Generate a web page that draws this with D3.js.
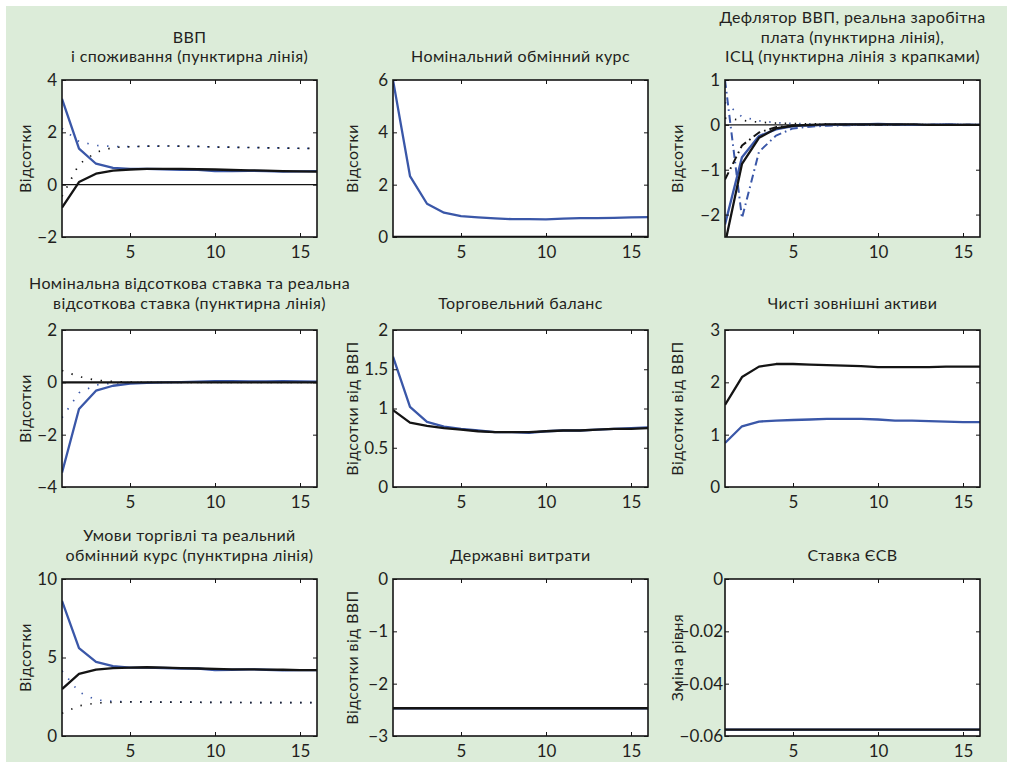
<!DOCTYPE html>
<html>
<head>
<meta charset="utf-8">
<script src="https://cdn.jsdelivr.net/npm/d3@7"></script>
<style>
  html, body { margin: 0; padding: 0; background: #ffffff; }
  svg { display: block; font-family: Lato, "Open Sans", sans-serif; }
</style>
</head>
<body>
<svg id="chart" width="1013" height="767"></svg>
<script>
// Horizon (quarters)
const periods = [1, 2, 3, 4, 5, 6, 7, 8, 9, 10, 11, 12, 13, 14, 15, 16];
const xTicks = [5, 10, 15];

// ВВП і споживання
const gdpBlue   = [3.28, 1.38, 0.80, 0.64, 0.60, 0.60, 0.59, 0.57, 0.57, 0.52, 0.52, 0.53, 0.52, 0.50, 0.51, 0.52];
const gdpBlack  = [-0.88, 0.10, 0.42, 0.54, 0.58, 0.60, 0.60, 0.60, 0.59, 0.58, 0.56, 0.55, 0.54, 0.52, 0.51, 0.50];
const consBlue  = [2.15, 1.65, 1.50, 1.46, 1.45, 1.47, 1.48, 1.47, 1.46, 1.44, 1.43, 1.42, 1.41, 1.40, 1.39, 1.38];
const consBlack = [-0.45, 0.78, 1.24, 1.42, 1.45, 1.47, 1.48, 1.47, 1.46, 1.44, 1.43, 1.42, 1.41, 1.40, 1.39, 1.38];
const yTicksGdp = [-2, 0, 2, 4];

// Номінальний обмінний курс
const nerBlue  = [6.00, 2.33, 1.27, 0.93, 0.80, 0.75, 0.71, 0.68, 0.68, 0.67, 0.70, 0.72, 0.72, 0.73, 0.75, 0.76];
const nerBlack = [0, 0, 0, 0, 0, 0, 0, 0, 0, 0, 0, 0, 0, 0, 0, 0];
const yTicksNer = [0, 2, 4, 6];

// Дефлятор ВВП, реальна заробітна плата, ІСЦ
const deflBlue  = [-2.22, -0.72, -0.25, -0.10, -0.03, -0.01, 0.00, 0.01, 0.01, 0.02, 0.01, 0.00, 0.00, 0.01, 0.00, 0.00];
const deflBlack = [-2.65, -0.87, -0.29, -0.08, -0.02, 0.00, 0.01, 0.01, 0.01, 0.01, 0.01, 0.01, 0.00, 0.00, 0.00, 0.00];
const wageBlue  = [0.50, 0.18, 0.09, 0.05, 0.03, 0.02, 0.01, 0.01, 0.01, 0.00, 0.00, 0.00, 0.00, 0.00, 0.00, 0.00];
const wageBlack = [0.15, 0.10, 0.06, 0.04, 0.03, 0.02, 0.02, 0.01, 0.01, 0.01, 0.00, 0.00, 0.00, 0.00, 0.00, 0.00];
const cpiBlue   = [1.00, -2.08, -0.60, -0.24, -0.08, -0.04, -0.02, -0.01, 0.00, 0.00, 0.01, 0.01, 0.00, 0.00, 0.00, 0.00];
const cpiBlack  = [-1.22, -0.46, -0.17, -0.05, -0.02, -0.01, 0.00, 0.00, 0.00, 0.00, 0.00, 0.00, 0.00, 0.00, 0.00, 0.00];
const yTicksPrices = [-2, -1, 0, 1];

// Номінальна та реальна відсоткова ставка
const nomRateBlue   = [-3.45, -1.02, -0.32, -0.13, -0.05, -0.02, 0.00, 0.01, 0.03, 0.05, 0.05, 0.04, 0.04, 0.05, 0.04, 0.03];
const nomRateBlack  = [0, 0, 0, 0, 0, 0, 0, 0, 0, 0, 0, 0, 0, 0, 0, 0];
const realRateBlue  = [-1.35, -0.40, -0.10, -0.03, -0.01, 0.00, 0.00, 0.00, 0.00, 0.00, 0.00, 0.00, 0.00, 0.00, 0.00, 0.00];
const realRateBlack = [0.45, 0.22, 0.08, 0.03, 0.01, 0.00, 0.00, 0.00, 0.00, 0.00, 0.00, 0.00, 0.00, 0.00, 0.00, 0.00];
const yTicksRates = [-4, -2, 0, 2];

// Торговельний баланс
const tradeBlue  = [1.66, 1.02, 0.83, 0.77, 0.74, 0.72, 0.70, 0.70, 0.69, 0.71, 0.72, 0.72, 0.73, 0.74, 0.75, 0.76];
const tradeBlack = [0.98, 0.82, 0.78, 0.75, 0.73, 0.71, 0.70, 0.70, 0.70, 0.71, 0.72, 0.72, 0.73, 0.74, 0.74, 0.75];
const yTicksTrade = [0, 0.5, 1, 1.5, 2];

// Чисті зовнішні активи
const nfaBlue  = [0.84, 1.16, 1.25, 1.27, 1.28, 1.29, 1.30, 1.30, 1.30, 1.29, 1.27, 1.27, 1.26, 1.25, 1.24, 1.24];
const nfaBlack = [1.57, 2.10, 2.30, 2.35, 2.35, 2.34, 2.33, 2.32, 2.31, 2.29, 2.29, 2.29, 2.29, 2.30, 2.30, 2.30];
const yTicksNfa = [0, 1, 2, 3];

// Умови торгівлі та реальний обмінний курс
const totBlue  = [8.60, 5.60, 4.72, 4.45, 4.35, 4.35, 4.33, 4.30, 4.30, 4.20, 4.22, 4.25, 4.22, 4.18, 4.20, 4.20];
const totBlack = [2.99, 3.95, 4.23, 4.32, 4.35, 4.38, 4.35, 4.32, 4.30, 4.27, 4.25, 4.25, 4.23, 4.22, 4.20, 4.20];
const rerBlue  = [4.15, 2.80, 2.30, 2.20, 2.18, 2.17, 2.16, 2.16, 2.15, 2.14, 2.14, 2.13, 2.13, 2.12, 2.12, 2.12];
const rerBlack = [1.45, 1.92, 2.10, 2.15, 2.17, 2.17, 2.16, 2.16, 2.15, 2.14, 2.14, 2.13, 2.13, 2.12, 2.12, 2.12];
const yTicksTot = [0, 5, 10];

// Державні витрати
const govBlue  = [-2.47, -2.47, -2.47, -2.47, -2.47, -2.47, -2.47, -2.47, -2.47, -2.47, -2.47, -2.47, -2.47, -2.47, -2.47, -2.47];
const govBlack = [-2.47, -2.47, -2.47, -2.47, -2.47, -2.47, -2.47, -2.47, -2.47, -2.47, -2.47, -2.47, -2.47, -2.47, -2.47, -2.47];
const yTicksGov = [-3, -2, -1, 0];

// Ставка ЄСВ
const sscBlue  = [-0.0576, -0.0576, -0.0576, -0.0576, -0.0576, -0.0576, -0.0576, -0.0576, -0.0576, -0.0576, -0.0576, -0.0576, -0.0576, -0.0576, -0.0576, -0.0576];
const sscBlack = [-0.0576, -0.0576, -0.0576, -0.0576, -0.0576, -0.0576, -0.0576, -0.0576, -0.0576, -0.0576, -0.0576, -0.0576, -0.0576, -0.0576, -0.0576, -0.0576];
const yTicksSsc = [-0.06, -0.04, -0.02, 0];

// ---- styling / layout ----
const BLUE = "#3a57a8";
const BLACK = "#141414";
const TEXT = "#231f20";
const BG = "#dcecd9";
const FONT = 'Lato, "Open Sans", sans-serif';

const colX = [62, 393, 725];
const rowY = [80, 330, 579];
const plotW = 255, plotH = 157;
const ylabelX = [31, 358, 683];
const titleBase = [62, 308.5, 560.5];
const titleSize = 16;
const titleSpacing = 0.4;
const lineGap = 19.4;
const tickSize = 17;

const STYLE = {
  solid:   { width: 2.3, dash: null },
  dotted:  { width: 1.7, dash: "1.4 8.6" },
  dashdot: { width: 2.0, dash: "8 4 1.6 4" }
};

const panels = [
  { col: 0, row: 0, title: ["ВВП", "і споживання (пунктирна лінія)"], ylabel: "Відсотки",
    yDomain: [-2, 4], yTicks: yTicksGdp, zeroLine: true,
    series: [
      { v: consBlue, c: BLUE, s: "dotted" }, { v: consBlack, c: BLACK, s: "dotted" },
      { v: gdpBlue, c: BLUE, s: "solid" }, { v: gdpBlack, c: BLACK, s: "solid" } ] },
  { col: 1, row: 0, title: ["Номінальний обмінний курс"], ylabel: "Відсотки",
    yDomain: [0, 6], yTicks: yTicksNer,
    series: [ { v: nerBlack, c: BLACK, s: "solid" }, { v: nerBlue, c: BLUE, s: "solid" } ] },
  { col: 2, row: 0, title: ["Дефлятор ВВП, реальна заробітна", "плата (пунктирна лінія),", "ІСЦ (пунктирна лінія з крапками)"],
    ylabel: "Відсотки", yDomain: [-2.5, 1], yTicks: yTicksPrices, zeroLine: true,
    series: [
      { v: wageBlue, c: BLUE, s: "dotted" }, { v: wageBlack, c: BLACK, s: "dotted" },
      { v: cpiBlue, c: BLUE, s: "dashdot" }, { v: cpiBlack, c: BLACK, s: "dashdot" },
      { v: deflBlue, c: BLUE, s: "solid" }, { v: deflBlack, c: BLACK, s: "solid" } ] },
  { col: 0, row: 1, title: ["Номінальна відсоткова ставка та реальна", "відсоткова ставка (пунктирна лінія)"],
    ylabel: "Відсотки", yDomain: [-4, 2], yTicks: yTicksRates,
    series: [
      { v: realRateBlue, c: BLUE, s: "dotted" }, { v: realRateBlack, c: BLACK, s: "dotted" },
      { v: nomRateBlue, c: BLUE, s: "solid" }, { v: nomRateBlack, c: BLACK, s: "solid" } ] },
  { col: 1, row: 1, title: ["Торговельний баланс"], ylabel: "Відсотки від ВВП",
    yDomain: [0, 2], yTicks: yTicksTrade,
    series: [ { v: tradeBlue, c: BLUE, s: "solid" }, { v: tradeBlack, c: BLACK, s: "solid" } ] },
  { col: 2, row: 1, title: ["Чисті зовнішні активи"], ylabel: "Відсотки від ВВП",
    yDomain: [0, 3], yTicks: yTicksNfa,
    series: [ { v: nfaBlue, c: BLUE, s: "solid" }, { v: nfaBlack, c: BLACK, s: "solid" } ] },
  { col: 0, row: 2, title: ["Умови торгівлі та реальний", "обмінний курс (пунктирна лінія)"],
    ylabel: "Відсотки", yDomain: [0, 10], yTicks: yTicksTot,
    series: [
      { v: rerBlue, c: BLUE, s: "dotted" }, { v: rerBlack, c: BLACK, s: "dotted" },
      { v: totBlue, c: BLUE, s: "solid" }, { v: totBlack, c: BLACK, s: "solid" } ] },
  { col: 1, row: 2, title: ["Державні витрати"], ylabel: "Відсотки від ВВП",
    yDomain: [-3, 0], yTicks: yTicksGov,
    series: [ { v: govBlue, c: BLUE, s: "solid" }, { v: govBlack, c: BLACK, s: "solid" } ] },
  { col: 2, row: 2, title: ["Ставка ЄСВ"], ylabel: "Зміна рівня",
    yDomain: [-0.06, 0], yTicks: yTicksSsc, tickGap: 2,
    series: [ { v: sscBlue, c: BLUE, s: "solid" }, { v: sscBlack, c: BLACK, s: "solid" } ] }
];

const svg = d3.select("#chart");
svg.append("rect").attr("x", 6).attr("y", 6).attr("width", 1001).attr("height", 756).attr("fill", BG);

const fmt = d3.format("~g");

panels.forEach((p, i) => {
  const x0 = colX[p.col], y0 = rowY[p.row];
  const x = d3.scaleLinear().domain([1, 16]).range([0, plotW]);
  const y = d3.scaleLinear().domain(p.yDomain).range([plotH, 0]);
  const g = svg.append("g").attr("transform", `translate(${x0},${y0})`);

  g.append("rect").attr("width", plotW).attr("height", plotH).attr("fill", "#ffffff");

  const clipId = "clip" + i;
  g.append("clipPath").attr("id", clipId).append("rect").attr("width", plotW).attr("height", plotH);
  const plot = g.append("g").attr("clip-path", `url(#${clipId})`);

  if (p.zeroLine) {
    plot.append("line").attr("x1", 0).attr("x2", plotW).attr("y1", y(0)).attr("y2", y(0))
      .attr("stroke", BLACK).attr("stroke-width", 1.1);
  }

  const line = d3.line().x((d, k) => x(periods[k])).y(d => y(d));
  p.series.forEach(s => {
    const st = STYLE[s.s];
    plot.append("path").datum(s.v).attr("d", line)
      .attr("fill", "none").attr("stroke", s.c).attr("stroke-width", st.width)
      .attr("stroke-linejoin", "round")
      .attr("stroke-dasharray", st.dash);
  });

  const styleAxis = a => {
    a.select(".domain").remove();
    a.selectAll(".tick line").attr("stroke", BLACK).attr("stroke-width", 1);
    a.selectAll("text").attr("fill", TEXT).attr("font-size", tickSize).attr("font-family", FONT);
  };

  g.append("g").attr("transform", `translate(0,${plotH})`)
    .call(d3.axisBottom(x).tickValues(xTicks).tickSize(-4).tickPadding(9).tickFormat(d3.format("d")))
    .call(styleAxis);
  g.append("g")
    .call(d3.axisTop(x).tickValues(xTicks).tickSize(-4).tickFormat(""))
    .call(styleAxis);
  g.append("g")
    .call(d3.axisLeft(y).tickValues(p.yTicks).tickSize(-4).tickPadding(p.tickGap || 5).tickFormat(fmt))
    .call(styleAxis);
  g.append("g").attr("transform", `translate(${plotW},0)`)
    .call(d3.axisRight(y).tickValues(p.yTicks).tickSize(-4).tickFormat(""))
    .call(styleAxis);

  g.append("rect").attr("width", plotW).attr("height", plotH)
    .attr("fill", "none").attr("stroke", BLACK).attr("stroke-width", 1.6);

  // title: one text element, wrapped into lines, centred over the plot
  const n = p.title.length;
  const title = svg.append("text")
    .attr("x", x0 + plotW / 2)
    .attr("y", titleBase[p.row] - (n - 1) * lineGap)
    .attr("text-anchor", "middle")
    .attr("letter-spacing", titleSpacing)
    .attr("font-size", titleSize).attr("fill", TEXT);
  p.title.forEach((t, k) => {
    title.append("tspan")
      .attr("x", x0 + plotW / 2)
      .attr("dy", k === 0 ? 0 : lineGap)
      .text(t);
  });

  svg.append("text")
    .attr("transform", `translate(${ylabelX[p.col]},${y0 + plotH / 2}) rotate(-90)`)
    .attr("text-anchor", "middle")
    .attr("letter-spacing", titleSpacing)
    .attr("font-size", titleSize).attr("fill", TEXT)
    .text(p.ylabel);
});
</script>
</body>
</html>
